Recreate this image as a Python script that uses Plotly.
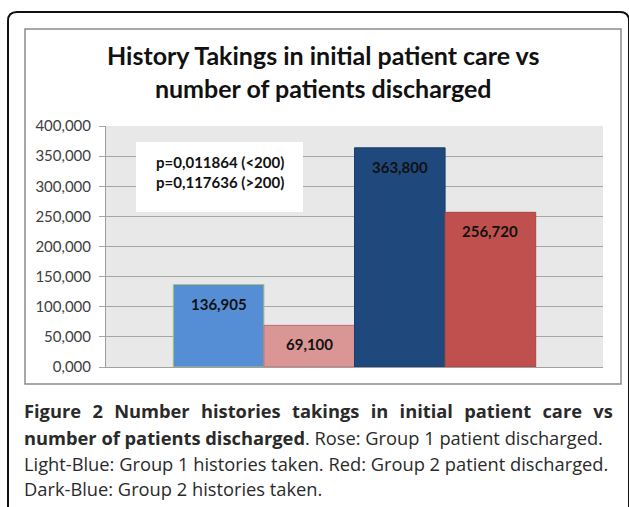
import plotly.graph_objects as go

# ---- data ----
bar_names = ["Group 1 histories taken", "Group 1 patient discharged",
             "Group 2 histories taken", "Group 2 patient discharged"]
bar_values = [136.905, 69.100, 363.800, 256.720]
bar_colors = ["#558ED5", "#D99694", "#1F497D", "#C0504D"]
bar_edges = ["#A8C07A", "#B8707A", "#1A3E6A", "#A84444"]
y_ticks = [0, 50, 100, 150, 200, 250, 300, 350, 400]
title_text = "History Takings in initial patient care vs<br>number of patients discharged"
pvalue_text = "p=0,011864 (<200)<br>p=0,117636 (>200)"
GAP = " \u00a0\u200a"
caption_lines = [
    "<b>" + GAP.join("Figure 2 Number histories takings in initial patient care vs".split(" ")) + "</b>",
    "<b>number of patients discharged</b>. Rose: Group 1 patient discharged.",
    "Light-Blue: Group 1 histories taken. Red: Group 2 patient discharged.",
    "Dark-Blue: Group 2 histories taken.",
]

W, H = 629, 507
ML, MR, MT, MB = 106, 26, 126, 140
PW = W - ML - MR
PH = H - MT - MB


def px(x):
    return (x - ML) / PW


def py(y):
    return (H - MB - y) / PH


def fmt(v):
    return f"{v:.3f}".replace(".", ",")


xs = list(range(len(bar_values)))
fig = go.Figure()
for i, (n, v, c, e) in enumerate(zip(bar_names, bar_values, bar_colors, bar_edges)):
    fig.add_trace(go.Bar(x=[xs[i]], y=[v], name=n, width=1.0,
                         marker=dict(color=c, line=dict(color=e, width=1)),
                         showlegend=False, hoverinfo="y"))

annotations = []
for x, v in zip(xs, bar_values):
    annotations.append(dict(x=x, y=v, xref="x", yref="y", text=fmt(v), showarrow=False,
                            yanchor="middle", yshift=-19,
                            font=dict(family="Lato", size=15, color="#111111", weight="bold")))

# p-value text
annotations.append(dict(x=px(219.5), y=py(172), xref="paper", yref="paper",
                        text="<b>" + pvalue_text + "</b>", showarrow=False,
                        align="center", xanchor="center", yanchor="middle",
                        font=dict(family="Lato", size=15, color="#111111")))

# title
annotations.append(dict(x=px(323), y=py(72), xref="paper", yref="paper",
                        text="<b>" + title_text + "</b>", showarrow=False,
                        xanchor="center", yanchor="middle", align="center",
                        font=dict(family="Lato", size=25, color="#111111")))

# caption
cap_y = [410, 437, 463, 488]
for t, yy in zip(caption_lines, cap_y):
    annotations.append(dict(x=px(22), y=py(yy), xref="paper", yref="paper",
                            text=t, showarrow=False, xanchor="left", yanchor="middle",
                            align="left",
                            font=dict(family="Open Sans", size=18.3, color="#2a2a2a")))

shapes = [
    # p-value white box
    dict(type="rect", xref="paper", yref="paper", x0=px(136), x1=px(303), y0=py(142), y1=py(212),
         line=dict(width=0), fillcolor="white", layer="above"),
    # inner chart border
    dict(type="rect", xref="paper", yref="paper", x0=px(25), x1=px(621), y0=py(29), y1=py(384),
         line=dict(color="#8C8C8C", width=1.5), fillcolor="rgba(0,0,0,0)", layer="above"),
    # outer rounded frame
    dict(type="path", xref="paper", yref="paper",
         path=(f"M {px(8)},{py(515)} L {px(8)},{py(21)} Q {px(8)},{py(12)} {px(17)},{py(12)} "
               f"L {px(620)},{py(12)} Q {px(629)},{py(12)} {px(629)},{py(21)} L {px(629)},{py(515)}"),
         line=dict(color="#111111", width=2), layer="above"),
]

fig.update_layout(
    width=W, height=H,
    margin=dict(l=ML, r=MR, t=MT, b=MB, autoexpand=False),
    paper_bgcolor="white", plot_bgcolor="#E8E8E8",
    separators=",.",
    barmode="overlay",
    annotations=annotations, shapes=shapes,
    showlegend=False,
)
fig.update_xaxes(range=[-1.243, 4.243], showticklabels=False, showgrid=False,
                 zeroline=False, showline=True, linecolor="#A0A0A0", linewidth=1, ticks="")
fig.update_yaxes(range=[0, 400], tickvals=y_ticks, tickformat=".3f",
                 showgrid=True, gridcolor="#A6A6A6", gridwidth=1, zeroline=False,
                 showline=True, linecolor="#A0A0A0", linewidth=1,
                 ticks="outside", ticklen=6, tickcolor="#A6A6A6", ticklabelstandoff=5,
                 tickfont=dict(family="Lato", size=15, color="#404040"))

fig.write_html("out.html", config={"displayModeBar": False},
               post_script="document.body.style.margin='0';")
